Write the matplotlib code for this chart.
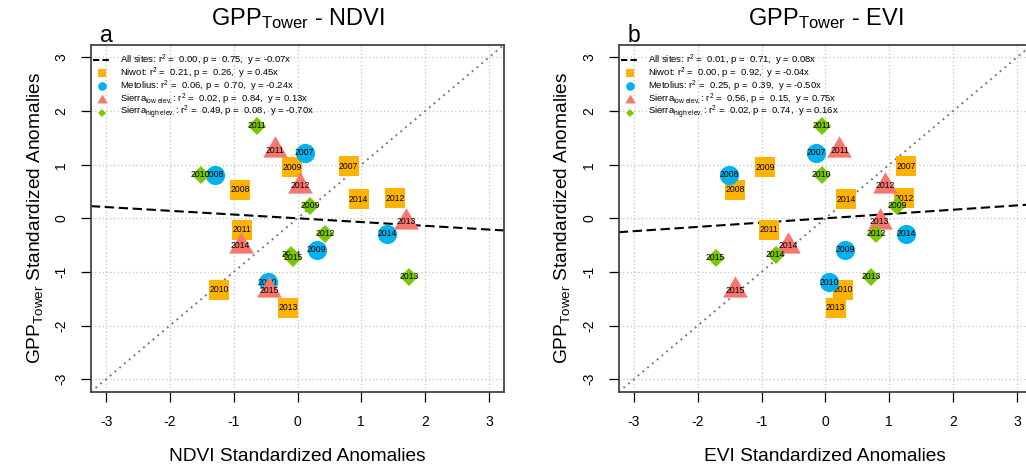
import numpy as np
import matplotlib
matplotlib.use("Agg")
import matplotlib.pyplot as plt
from matplotlib.path import Path

plt.rcParams['font.family'] = ['Liberation Sans', 'DejaVu Sans']
plt.rcParams['mathtext.fontset'] = 'custom'
plt.rcParams['mathtext.rm'] = 'Liberation Sans'
plt.rcParams['mathtext.it'] = 'Liberation Sans:italic'
plt.rcParams['mathtext.bf'] = 'Liberation Sans:bold'

## standardized anomalies per site (GPP from tower, NDVI / EVI from satellite)

niwot_years = [2007, 2008, 2009, 2010, 2011, 2012, 2013, 2014]
niwot_gpp   = [0.97, 0.53, 0.95, -1.33, -0.21, 0.37, -1.67, 0.36]
niwot_ndvi  = [0.80, -0.90, -0.09, -1.23, -0.87, 1.53, -0.15, 0.96]
niwot_evi   = [1.27, -1.41, -0.94, 0.28, -0.89, 1.23, 0.16, 0.32]

metolius_years = [2007, 2008, 2009, 2010, 2014]
metolius_gpp   = [1.22, 0.81, -0.59, -1.19, -0.29]
metolius_ndvi  = [0.11, -1.30, 0.30, -0.47, 1.41]
metolius_evi   = [-0.14, -1.51, 0.31, 0.06, 1.27]

sierra_low_years = [2011, 2012, 2013, 2014, 2015]
sierra_low_gpp   = [1.27, 0.61, -0.06, -0.51, -1.34]
sierra_low_ndvi  = [-0.36, 0.04, 1.70, -0.89, -0.45]
sierra_low_evi   = [0.22, 0.94, 0.85, -0.59, -1.41]

sierra_high_years = [2009, 2010, 2011, 2012, 2013, 2014, 2015]
sierra_high_gpp   = [0.23, 0.81, 1.73, -0.29, -1.09, -0.68, -0.74]
sierra_high_ndvi  = [0.20, -1.52, -0.64, 0.43, 1.75, -0.10, -0.07]
sierra_high_evi   = [1.12, -0.06, -0.06, 0.80, 0.72, -0.78, -1.72]

# regression stats: all sites, Niwot, Metolius, Sierra low, Sierra high
legend_names = ["All sites", "Niwot", "Metolius",
                r"Sierra$_{\mathrm{low\ elev.}}$", r"Sierra$_{\mathrm{high\ elev.}}$"]
ndvi_r2    = [0.00, 0.21, 0.06, 0.02, 0.49]
ndvi_p     = [0.75, 0.26, 0.70, 0.84, 0.08]
ndvi_slope = [-0.07, 0.45, -0.24, 0.13, -0.70]
evi_r2     = [0.01, 0.00, 0.25, 0.56, 0.02]
evi_p      = [0.71, 0.92, 0.39, 0.15, 0.74]
evi_slope  = [0.08, -0.04, -0.50, 0.75, 0.16]

axis_ticks = [-3, -2, -1, 0, 1, 2, 3]

# marker styles
tri = Path([(0, 1), (-0.866, -0.5), (0.866, -0.5), (0, 1)],
           [Path.MOVETO, Path.LINETO, Path.LINETO, Path.CLOSEPOLY])
c_niwot, c_met, c_low, c_high = '#FFB300', '#00B2EE', '#F8766D', '#7CC800'

site_style = [
    dict(marker='s', color=c_niwot, ms=14.2, lms=5.8),
    dict(marker='o', color=c_met, ms=13.8, lms=6.2),
    dict(marker=tri, color=c_low, ms=20.5, lms=8.5),
    dict(marker='D', color=c_high, ms=9.2, lms=4.2),
]

sites = [
    (niwot_years, niwot_gpp, niwot_ndvi, niwot_evi),
    (metolius_years, metolius_gpp, metolius_ndvi, metolius_evi),
    (sierra_low_years, sierra_low_gpp, sierra_low_ndvi, sierra_low_evi),
    (sierra_high_years, sierra_high_gpp, sierra_high_ndvi, sierra_high_evi),
]

W, H = 1026, 472
fig = plt.figure(figsize=(W / 100, H / 100), dpi=100)

ax_w, ax_h = 413.4 / W, 347.4 / H
ax_b = (H - 392) / H
axes = [fig.add_axes([90.8 / W, ax_b, ax_w, ax_h]),
        fig.add_axes([618.7 / W, ax_b, ax_w, ax_h])]

panels = [
    dict(idx=2, letter='a', title=r"GPP$_{\mathrm{Tower}}$ - NDVI",
         xlabel="NDVI Standardized Anomalies", r2=ndvi_r2, p=ndvi_p, slope=ndvi_slope),
    dict(idx=3, letter='b', title=r"GPP$_{\mathrm{Tower}}$ - EVI",
         xlabel="EVI Standardized Anomalies", r2=evi_r2, p=evi_p, slope=evi_slope),
]

lim = 3.24
row_y = [0.9557, 0.9177, 0.8797, 0.8417, 0.8037]

for ax, pan in zip(axes, panels):
    ax.set_xlim(-lim, lim)
    ax.set_ylim(-lim, lim)
    for t in axis_ticks:
        ax.axvline(t, color='#c4c4c4', lw=0.9, ls=(0, (1, 2)), zorder=0)
        ax.axhline(t, color='#c4c4c4', lw=0.9, ls=(0, (1, 2)), zorder=0)

    # 1:1 line and all-sites regression
    ax.axline((0, 0), slope=1, color='#7a7a7a', lw=1.4, ls=(0, (1, 2.2)), zorder=1)
    ax.axline((0, 0), slope=pan['slope'][0], color='black', lw=1.5, ls=(0, (4.5, 2.2)), zorder=1)

    z = 2
    for site, st in zip(sites, site_style):
        years, gpp, x = site[0], site[1], site[pan['idx']]
        for yr, xv, yv in zip(years, x, gpp):
            ax.plot(xv, yv, marker=st['marker'], color=st['color'], ms=st['ms'],
                    mew=0, ls='none', zorder=z)
            ax.text(xv, yv, str(yr), fontsize=6.2, ha='center', va='center', zorder=z + 0.5)
            z += 1

    # legend
    tr = ax.transAxes
    ax.plot([0.0048, 0.0508], [row_y[0]] * 2, color='black', lw=1.5,
            ls=(0, (3, 1.6)), transform=tr, clip_on=False, zorder=200)
    for i in range(1, 5):
        st = site_style[i - 1]
        ax.plot(0.0266, row_y[i], marker=st['marker'], color=st['color'], ms=st['lms'],
                mew=0, transform=tr, clip_on=False, zorder=200)
    for i, name in enumerate(legend_names):
        lab = "%s: r$^2$ =  %.2f, p =  %.2f,  y = %.2fx" % (
            name, pan['r2'][i], pan['p'][i], pan['slope'][i])
        ax.text(0.0702, row_y[i], lab, fontsize=6.8, ha='left', va='center',
                transform=tr, zorder=200)

    ax.text(0.5, 1.0564, pan['title'], fontsize=17, ha='center', va='baseline', transform=tr)
    ax.text((-3 + lim) / (2 * lim), 1.008, pan['letter'], fontsize=16.5,
            ha='center', va='baseline', transform=tr)

    ax.set_xticks(axis_ticks)
    ax.set_yticks(axis_ticks)
    ax.set_xticklabels([str(t) for t in axis_ticks])
    ax.set_yticklabels([str(t) for t in axis_ticks], rotation=90, va='center')
    ax.tick_params(direction='out', length=7.2, width=0.9, labelsize=10, pad=9)
    for s in ax.spines.values():
        s.set_color('#444444')
        s.set_linewidth(1.3)
    ax.set_xlabel(pan['xlabel'], fontsize=13.8, labelpad=14)
    ax.set_ylabel(r"GPP$_{\mathrm{Tower}}$ Standardized Anomalies", fontsize=13.8, labelpad=7)

fig.savefig("out.png", dpi=100)
